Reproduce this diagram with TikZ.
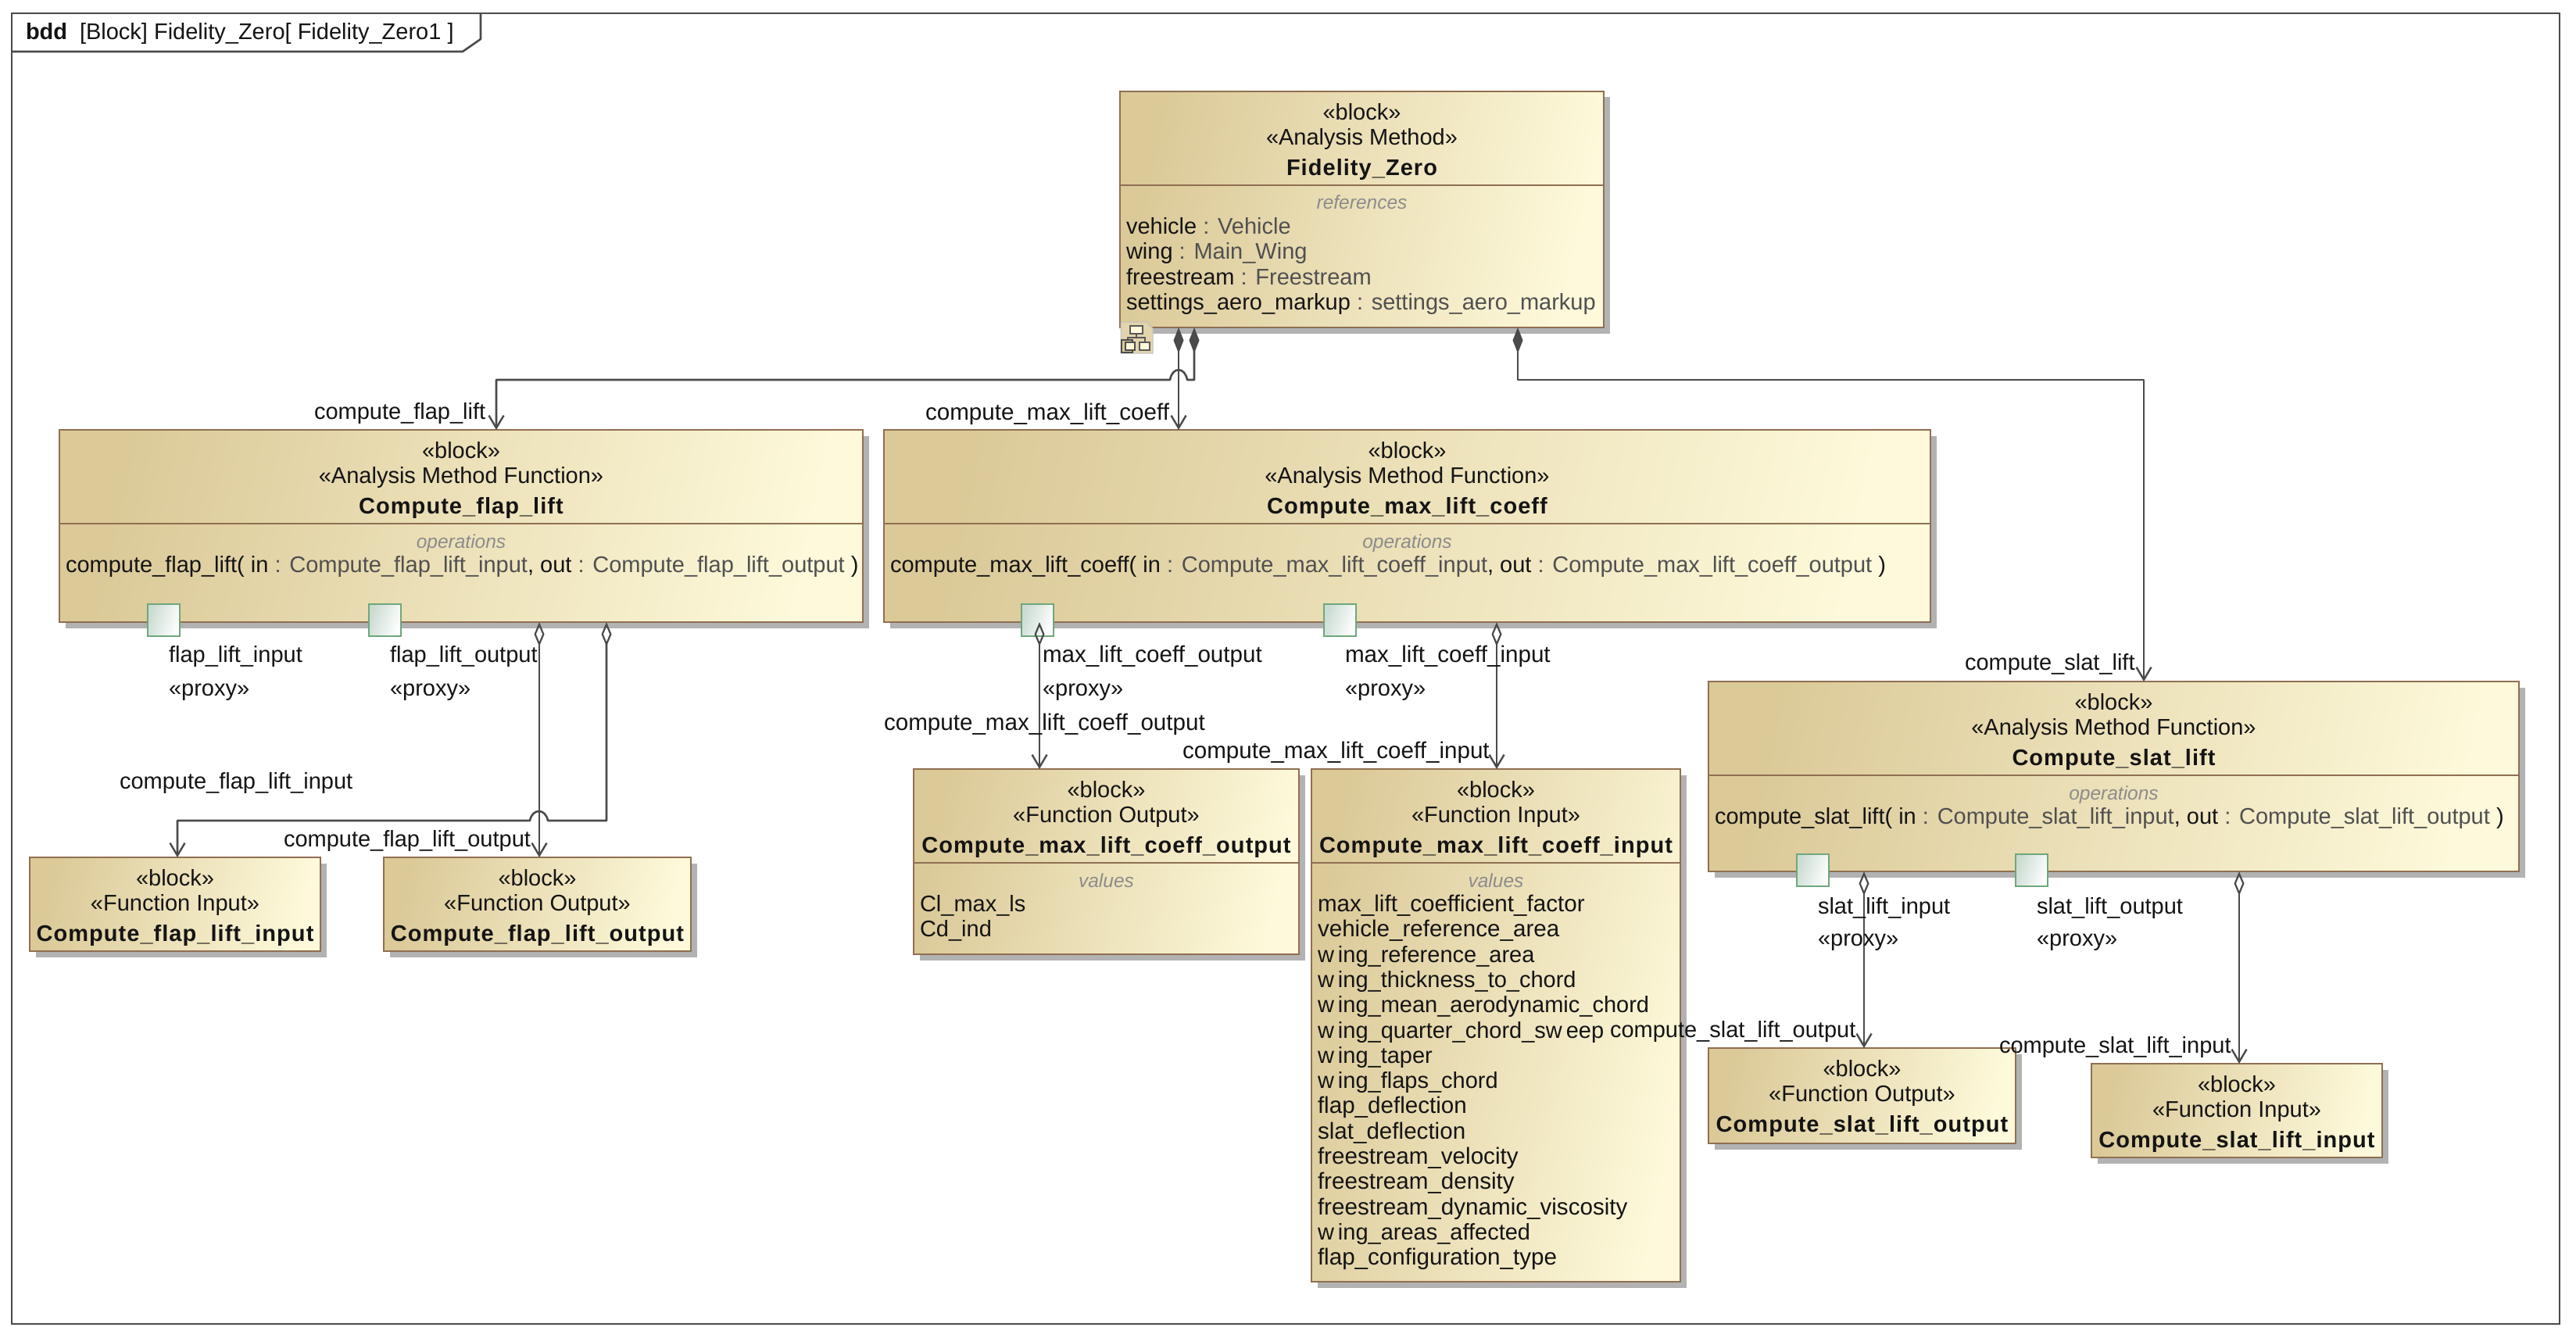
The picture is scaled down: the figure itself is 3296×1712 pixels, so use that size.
\documentclass[tikz,border=0pt]{standalone}
\usepackage{fontspec}
\setmainfont{Liberation Sans}
\usetikzlibrary{arrows.meta,shadows,calc}
\definecolor{blkL}{HTML}{DBC998}
\definecolor{blkR}{HTML}{FDF9DA}
\definecolor{blkE}{HTML}{8F6F52}
\definecolor{lineC}{HTML}{4A4A4A}
\definecolor{typeC}{HTML}{505050}
\definecolor{headC}{HTML}{8C8C8C}
\definecolor{portE}{HTML}{6FA77C}
\definecolor{portL}{HTML}{CADBD1}
\definecolor{txtC}{HTML}{141414}
\tikzset{
  umlblock/.style={draw=blkE,line width=2.6pt,left color=blkL,right color=blkR,shading angle=78,
    inner sep=0pt,outer sep=0pt,anchor=north west,
    drop shadow={shadow xshift=7.5pt,shadow yshift=-7.5pt,fill=black!30,opacity=1}},
  umlport/.style={draw=portE,line width=2.4pt,left color=portL,right color=white,shading angle=70,
    inner sep=0pt,outer sep=0pt,anchor=north west},
  divline/.style={draw=blkE,line width=2.4pt},
  lab/.style={inner sep=0pt,outer sep=0pt,text=txtC,font=\fontsize{29}{32}\selectfont},
  head/.style={inner sep=0pt,outer sep=0pt,text=headC,font=\fontsize{24.5}{28}\selectfont\itshape},
  ttl/.style={lab,font=\fontsize{29}{32}\selectfont\bfseries\addfontfeature{LetterSpace=3.6}},
  conn/.style={draw=lineC,line width=2.6pt,line join=round},
  comp/.style={conn,{Diamond[length=33pt,width=13pt]}-{Straight Barb[length=16pt,width=19pt,line width=2.4pt]}},
  shar/.style={conn,{Diamond[open,length=31pt,width=13pt,line width=2.2pt]}-{Straight Barb[length=16pt,width=19pt,line width=2.4pt]}},
}
\newcommand{\ty}[1]{\textcolor{typeC}{#1}}
\newcommand{\wdr}{\fontsize{29.6}{32}\selectfont}
\newcommand{\wg}{w\kern5pt ing}
% id, x1, y1, x2, y2
\newcommand{\blk}[5]{\node[umlblock,minimum width={#4-#2},minimum height={#5-#3}] (#1) at (#2,#3) {};}
% id, stereotype, name
\newcommand{\hdr}[3]{%
  \node[lab,anchor=base] (#1-s1) at ([yshift=-36.5pt]#1.north) {«block»};
  \node[lab,anchor=base] (#1-s2) at ([yshift=-68.5pt]#1.north) {«#2»};
  \node[ttl,anchor=base] (#1-n) at ([yshift=-107.5pt]#1.north) {#3};}
% id, heading
\newcommand{\cmp}[2]{%
  \draw[divline] ([yshift=-120pt]#1.north west) -- ([yshift=-120pt]#1.north east);
  \node[head,anchor=base] (#1-h) at ([yshift=-151pt]#1.north) {#2};}
% id, line number, text
\newcommand{\bline}[3]{\node[lab,anchor=base west] (#1-l#2) at ([xshift=8pt,yshift={-182.5pt-(#2-1)*32.3pt}]#1.north west) {#3};}
% name, x, y, text
\newcommand{\lbl}[4]{\node[lab,anchor=base west] (#1) at (#2,#3) {#4};}
\newcommand{\prt}[3]{\node[umlport,minimum width=41pt,minimum height=41pt] (#1) at (#2,#3) {};}
\begin{document}
\begin{tikzpicture}[x=1pt,y=-1pt]
\useasboundingbox (0,0) rectangle (3296,1712);
\fill[white] (0,0) rectangle (3296,1712);
% frame
\draw[draw=lineC,line width=2.6pt] (15,17) rectangle (3275,1694);
\draw[draw=lineC,line width=2.6pt,line join=round] (15,66) -- (592,66) -- (615,50) -- (615,17);
\lbl{frameA}{33}{51}{\textbf{bdd}}
\lbl{frameB}{102}{51}{[Block] Fidelity\_Zero[ Fidelity\_Zero1 ]}
% blocks
\blk{fz}{1433}{117}{2052}{419}
\blk{fl}{76}{550}{1104}{796}
\blk{mc}{1131}{550}{2470}{796}
\blk{sl}{2186}{872}{3223}{1115}
\blk{fi}{38}{1097}{410}{1217}
\blk{fo}{491}{1097}{884}{1217}
\blk{mo}{1169}{984}{1662}{1221}
\blk{mi}{1678}{984}{2150}{1640}
\blk{so}{2186}{1341}{2579}{1463}
\blk{si}{2676}{1361}{3048}{1481}
% block texts
\hdr{fz}{Analysis Method}{Fidelity\_Zero}
\cmp{fz}{references}
\bline{fz}{1}{vehicle \ty{: Vehicle}}
\bline{fz}{2}{wing \ty{: Main\_Wing}}
\bline{fz}{3}{freestream \ty{: Freestream}}
\bline{fz}{4}{settings\_aero\_markup \ty{: settings\_aero\_markup}}
\hdr{fl}{Analysis Method Function}{Compute\_flap\_lift}
\cmp{fl}{operations}
\bline{fl}{1}{compute\_flap\_lift( in \ty{: Compute\_flap\_lift\_input}, out \ty{: Compute\_flap\_lift\_output} )}
\hdr{mc}{Analysis Method Function}{Compute\_max\_lift\_coeff}
\cmp{mc}{operations}
\bline{mc}{1}{compute\_max\_lift\_coeff( in \ty{: Compute\_max\_lift\_coeff\_input}, out \ty{: Compute\_max\_lift\_coeff\_output} )}
\hdr{sl}{Analysis Method Function}{Compute\_slat\_lift}
\cmp{sl}{operations}
\bline{sl}{1}{compute\_slat\_lift( in \ty{: Compute\_slat\_lift\_input}, out \ty{: Compute\_slat\_lift\_output} )}
\hdr{fi}{Function Input}{Compute\_flap\_lift\_input}
\hdr{fo}{Function Output}{Compute\_flap\_lift\_output}
\hdr{mo}{Function Output}{Compute\_max\_lift\_coeff\_output}
\cmp{mo}{values}
\bline{mo}{1}{Cl\_max\_ls}
\bline{mo}{2}{Cd\_ind}
\hdr{mi}{Function Input}{Compute\_max\_lift\_coeff\_input}
\cmp{mi}{values}
\bline{mi}{1}{\wdr max\_lift\_coefficient\_factor}
\bline{mi}{2}{\wdr vehicle\_reference\_area}
\bline{mi}{3}{\wg\_reference\_area}
\bline{mi}{4}{\wg\_thickness\_to\_chord}
\bline{mi}{5}{\wg\_mean\_aerodynamic\_chord}
\bline{mi}{6}{\wg\_quarter\_chord\_sw\kern5pt eep}
\bline{mi}{7}{\wg\_taper}
\bline{mi}{8}{\wg\_flaps\_chord}
\bline{mi}{9}{\wdr flap\_deflection}
\bline{mi}{10}{\wdr slat\_deflection}
\bline{mi}{11}{\wdr freestream\_velocity}
\bline{mi}{12}{\wdr freestream\_density}
\bline{mi}{13}{\wdr freestream\_dynamic\_viscosity}
\bline{mi}{14}{\wg\_areas\_affected}
\bline{mi}{15}{\wdr flap\_configuration\_type}
\hdr{so}{Function Output}{Compute\_slat\_lift\_output}
\hdr{si}{Function Input}{Compute\_slat\_lift\_input}
% ports
\prt{p1}{189}{773}
\prt{p2}{472}{773}
\prt{p3}{1307}{773}
\prt{p4}{1694}{773}
\prt{p5}{2299}{1093}
\prt{p6}{2579}{1093}
% diagram icon
\path[fill=blkL!80!white,draw=black!25,line width=1pt] (1434,412) -- (1467,412) -- (1475,420) -- (1475,452) -- (1434,452) -- cycle;
\draw[draw=black!65,fill=blkR,line width=1.6pt] (1446,417) rectangle (1462,427);
\draw[draw=black!65,line width=1.6pt] (1454,427) -- (1454,432) (1443,438) -- (1443,432) -- (1465,432) -- (1465,438);
\draw[draw=black!65,fill=blkR,line width=1.6pt] (1458,438) rectangle (1471,448);
\draw[draw=black!70,fill=blkL,line width=2pt] (1435,435) rectangle (1449,451);
\draw[draw=black!70,fill=blkR,line width=1.6pt] (1440,438) rectangle (1452,448);
% connectors
\draw[comp] ([xshift=75pt]fz.south west) -- ([xshift=377pt]mc.north west);
\draw[comp] ([xshift=95pt]fz.south west) -- (1528,486) -- (1519,486) .. controls (1516,469) and (1500,469) .. (1497,486) -- (635,486) -- ([xshift=559pt]fl.north west);
\draw[comp] ([xshift=509pt]fz.south west) -- (1942,486) -- (2743,486) -- ([xshift=557pt]sl.north west);
\draw[shar] ([xshift=614pt]fl.south west) -- ([xshift=199pt]fo.north west);
\draw[shar] ([xshift=700pt]fl.south west) -- (776,1050) -- (701,1050) .. controls (698,1034) and (681,1034) .. (678,1050) -- (227,1050) -- ([xshift=189pt]fi.north west);
\draw[shar] ([xshift=199pt]mc.south west) -- ([xshift=161pt]mo.north west);
\draw[shar] ([xshift=784pt]mc.south west) -- ([xshift=237pt]mi.north west);
\draw[shar] ([xshift=199pt]sl.south west) -- ([xshift=199pt]so.north west);
\draw[shar] ([xshift=679pt]sl.south west) -- ([xshift=189pt]si.north west);
% connector and port labels
\lbl{a1}{402}{536}{compute\_flap\_lift}
\lbl{a2}{1184}{537}{\wdr compute\_max\_lift\_coeff}
\lbl{a3}{2514}{857}{compute\_slat\_lift}
\lbl{b1}{216}{847}{flap\_lift\_input}
\lbl{b1p}{216}{890}{«proxy»}
\lbl{b2}{499}{847}{flap\_lift\_output}
\lbl{b2p}{499}{890}{«proxy»}
\lbl{b3}{1334}{847}{\wdr max\_lift\_coeff\_output}
\lbl{b3p}{1334}{890}{«proxy»}
\lbl{b4}{1721}{847}{\wdr max\_lift\_coeff\_input}
\lbl{b4p}{1721}{890}{«proxy»}
\lbl{b5}{2326}{1169}{slat\_lift\_input}
\lbl{b5p}{2326}{1210}{«proxy»}
\lbl{b6}{2606}{1169}{slat\_lift\_output}
\lbl{b6p}{2606}{1210}{«proxy»}
\lbl{c1}{153}{1009}{compute\_flap\_lift\_input}
\lbl{c2}{363}{1083}{compute\_flap\_lift\_output}
\lbl{c3}{1131}{934}{\wdr compute\_max\_lift\_coeff\_output}
\lbl{c4}{1513}{970}{\wdr compute\_max\_lift\_coeff\_input}
\lbl{c5}{2060}{1327}{compute\_slat\_lift\_output}
\lbl{c6}{2558}{1347}{compute\_slat\_lift\_input}
\end{tikzpicture}
\end{document}
